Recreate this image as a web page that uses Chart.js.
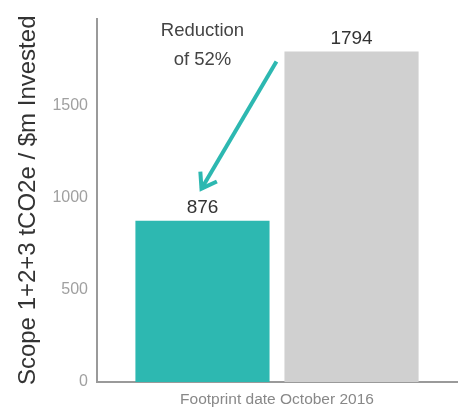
<!DOCTYPE html>
<html>
<head>
<meta charset="utf-8">
<script src="https://cdn.jsdelivr.net/npm/chart.js@4"></script>
<style>
  html, body { margin: 0; padding: 0; background: #fff; }
  #wrap { width: 465px; height: 410px; }
</style>
</head>
<body>
<div id="wrap"><canvas id="chart" width="465" height="410"></canvas></div>
<script>
const categories = ["Footprint date October 2016"];
const seriesNames = ["Portfolio", "Benchmark"];
const portfolioValues = [876];
const benchmarkValues = [1794];
const seriesColors = ["#2db8b1", "#d0d0d0"];
const yTicks = [0, 500, 1000, 1500];
const annotationLines = ["Reduction", "of 52%"];

const FONT = "'Liberation Sans', Arial, sans-serif";

const barLabels = {
  id: "barLabels",
  afterDatasetsDraw(chart) {
    const ctx = chart.ctx;
    ctx.save();
    ctx.font = "19px " + FONT;
    ctx.fillStyle = "#333";
    ctx.textAlign = "center";
    ctx.textBaseline = "middle";
    chart.data.datasets.forEach((ds, i) => {
      chart.getDatasetMeta(i).data.forEach((bar, j) => {
        ctx.fillText(String(ds.data[j]), bar.x, bar.y - 13);
      });
    });

    // annotation: text over the first bar, arrow from the second bar down to it
    const low = chart.getDatasetMeta(0).data[0];
    const high = chart.getDatasetMeta(1).data[0];
    ctx.fillStyle = "#444";
    ctx.font = "18.5px " + FONT;
    ctx.fillText(annotationLines[0], low.x, 31);
    ctx.fillText(annotationLines[1], low.x, 60);

    const x1 = high.x - high.width / 2 - 8;
    const y1 = high.y + 10;
    const x2 = low.x - 1;
    const y2 = low.y - 32;
    ctx.strokeStyle = seriesColors[0];
    ctx.lineWidth = 4;
    ctx.lineCap = "butt";
    ctx.beginPath();
    ctx.moveTo(x1, y1);
    ctx.lineTo(x2, y2);
    ctx.stroke();
    const ang = Math.atan2(y2 - y1, x2 - x1);
    const head = 17;
    ctx.beginPath();
    ctx.moveTo(x2 + head * Math.cos(ang + Math.PI - 0.6), y2 + head * Math.sin(ang + Math.PI - 0.6));
    ctx.lineTo(x2, y2);
    ctx.lineTo(x2 + head * Math.cos(ang + Math.PI + 0.6), y2 + head * Math.sin(ang + Math.PI + 0.6));
    ctx.stroke();
    ctx.restore();
  }
};

new Chart(document.getElementById("chart"), {
  type: "bar",
  data: {
    labels: categories,
    datasets: [
      { label: seriesNames[0], data: portfolioValues, backgroundColor: seriesColors[0] },
      { label: seriesNames[1], data: benchmarkValues, backgroundColor: seriesColors[1] }
    ]
  },
  options: {
    responsive: false,
    animation: false,
    events: [],
    categoryPercentage: 0.828,
    barPercentage: 0.9,
    layout: { padding: { left: 0, right: 8, top: 17, bottom: 0 } },
    plugins: { legend: { display: false }, tooltip: { enabled: false } },
    scales: {
      x: {
        grid: { display: false, drawTicks: false },
        border: { color: "#9a9a9a", width: 2 },
        ticks: { color: "#888", font: { family: FONT, size: 15.5 }, padding: 8 },
        afterFit: (s) => { s.height = 28; }
      },
      y: {
        min: 0,
        max: 1973,
        afterBuildTicks: (s) => { s.ticks = yTicks.map((v) => ({ value: v })); },
        grid: { display: false, drawTicks: false },
        border: { color: "#9a9a9a", width: 2 },
        ticks: {
          color: "#a0a0a0",
          font: { family: FONT, size: 16 },
          padding: 9,
          callback: (v) => String(v)
        },
        title: {
          display: true,
          text: "Scope 1+2+3 tCO2e / $m Invested",
          color: "#333",
          font: { family: FONT, size: 24 },
          padding: { top: 14, bottom: 0 }
        },
        afterFit: (s) => { s.width = 97; }
      }
    }
  },
  plugins: [barLabels]
});
</script>
</body>
</html>
